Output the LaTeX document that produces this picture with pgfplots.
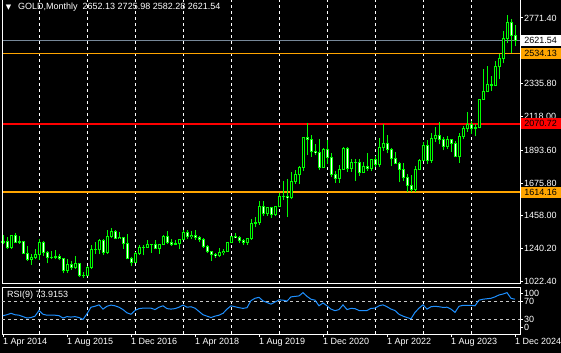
\documentclass[border=0pt]{standalone}
\usepackage{pgfplots}
\usepackage{pgfplotstable}
\pgfplotsset{compat=1.18}
\usepackage{fontspec}
\setmainfont{Liberation Sans}
\newfontfamily\dejavu{DejaVu Sans}
\newcommand\mt{\fontsize{9bp}{10bp}\selectfont}
\definecolor{candle}{RGB}{0,255,0}
\definecolor{rsiblue}{RGB}{30,144,255}
\definecolor{mtorange}{RGB}{255,165,0}
\definecolor{bidgray}{RGB}{119,136,153}
\definecolor{lvl}{RGB}{200,200,200}

\pgfplotstableread{
i o h l c r
0 1284 1331 1268 1288 39
1 1288 1315 1240 1250 41
2 1250 1332 1240 1327 44
3 1327 1346 1281 1282 41
4 1282 1324 1273 1287 40
5 1287 1292 1206 1210 37
6 1210 1255 1161 1171 34
7 1171 1208 1132 1182 35
8 1182 1238 1170 1199 38
9 1199 1307 1168 1283 50
10 1283 1288 1191 1212 42
11 1212 1223 1142 1183 40
12 1183 1224 1170 1184 40
13 1184 1232 1170 1190 40
14 1190 1205 1162 1172 39
15 1172 1174 1077 1095 34
16 1095 1170 1080 1134 37
17 1134 1157 1098 1115 36
18 1115 1191 1106 1142 37
19 1142 1142 1053 1065 35
20 1065 1088 1046 1060 31
21 1060 1123 1061 1118 43
22 1118 1263 1108 1238 57
23 1238 1283 1208 1233 59
24 1233 1304 1207 1293 62
25 1293 1303 1200 1215 53
26 1215 1362 1208 1321 59
27 1321 1375 1310 1351 61.5
28 1351 1367 1302 1309 60
29 1309 1352 1305 1316 57
30 1316 1318 1241 1277 52
31 1277 1338 1171 1173 45
32 1173 1183 1123 1151 42
33 1151 1220 1146 1211 50
34 1211 1264 1200 1249 54
35 1249 1262 1195 1249 55
36 1249 1296 1244 1268 55
37 1268 1270 1214 1269 55
38 1269 1296 1236 1242 52
39 1242 1274 1205 1269 57
40 1269 1331 1267 1322 60
41 1322 1357 1271 1280 54
42 1280 1306 1260 1271 53
43 1271 1299 1264 1275 54
44 1275 1307 1236 1303 57
45 1303 1366 1302 1345 61.5
46 1345 1362 1307 1318 57
47 1318 1356 1303 1325 58
48 1325 1366 1301 1316 55
49 1316 1326 1282 1299 48
50 1299 1309 1245 1253 41
51 1253 1266 1211 1224 38
52 1224 1226 1160 1201 35
53 1201 1214 1180 1192 38
54 1192 1243 1182 1215 40
55 1215 1237 1196 1222 44
56 1222 1284 1221 1282 53
57 1282 1326 1276 1321 60
58 1321 1347 1311 1313 58
59 1313 1325 1281 1292 56
60 1292 1303 1266 1284 54.5
61 1284 1306 1266 1305 56
62 1305 1439 1301 1409 71
63 1409 1453 1382 1413 76
64 1413 1555 1400 1520 78
65 1520 1557 1459 1472 70.5
66 1472 1518 1459 1513 67
67 1513 1516 1446 1464 63.5
68 1464 1524 1455 1517 68
69 1517 1611 1517 1589 72.6
70 1589 1689 1563 1585 72
71 1585 1704 1451 1577 70
72 1577 1747 1567 1686 79
73 1686 1765 1670 1730 80
74 1730 1789 1671 1781 81
75 1781 1984 1757 1975 88
76 1975 2075 1863 1968 80
77 1968 1992 1849 1886 74
78 1886 1933 1860 1879 72
79 1879 1966 1765 1776 60
80 1776 1906 1775 1898 66
81 1898 1959 1803 1847 60
82 1847 1872 1717 1734 53
83 1734 1755 1677 1708 49.6
84 1708 1798 1678 1769 52
85 1769 1913 1766 1906 62
86 1906 1916 1750 1770 52
87 1770 1833 1751 1814 54.5
88 1814 1834 1688 1813 54
89 1813 1834 1722 1743 50
90 1743 1814 1746 1783 50
91 1783 1877 1759 1774 50
92 1774 1831 1753 1829 54.5
93 1829 1853 1780 1797 55
94 1797 1974 1781 1909 60
95 1909 2070 1890 1937 62
96 1937 1998 1872 1897 58
97 1897 1910 1787 1837 53
98 1837 1879 1805 1807 50
99 1807 1814 1681 1766 42
100 1766 1808 1688 1711 38
101 1711 1735 1615 1661 35
102 1661 1730 1618 1633 32.4
103 1633 1786 1617 1768 46
104 1768 1833 1765 1824 55
105 1824 1949 1823 1928 62
106 1928 1959 1805 1827 53
107 1827 2009 1810 1969 58
108 1969 2049 1949 1990 59
109 1990 2079 1932 1963 58
110 1963 1983 1893 1919 56.6
111 1919 1987 1903 1965 57
112 1965 1966 1885 1940 53
113 1940 1953 1848 1849 46
114 1849 2009 1810 1983 59
115 1983 2052 1965 2036 61
116 2036 2146 2017 2063 61
117 2063 2088 2002 2039 61
118 2039 2065 1985 2044 60
119 2044 2236 2039 2230 72
120 2230 2431 2228 2286 74
121 2286 2450 2277 2327 75
122 2327 2388 2287 2326 76
123 2326 2484 2318 2447 79
124 2447 2531 2364 2503 83
125 2503 2685 2471 2634 85
126 2634 2790 2604 2744 88
127 2744 2762 2537 2653 76
128 2652.13 2725.98 2582.28 2621.54 73.9153
}\gold

\tikzset{pricebox/.style={text=black, font=\mt, anchor=west, inner sep=0pt, minimum width=40bp, minimum height=11bp, text height=6.5bp, text depth=0pt, xshift=0.5bp}}

\begin{document}
\begin{tikzpicture}
\fill[black] (0,0) rectangle (561bp,353bp);
\useasboundingbox (0,0) rectangle (561bp,353bp);

% ---------------- main price panel ----------------
\begin{axis}[
  at={(2bp,69bp)}, anchor=south west, scale only axis,
  width=518bp, height=284bp,
  xmin=-0.25, xmax=129.25, ymin=1005.8, ymax=2890.9,
  clip=false,
  axis line style={draw=none},
  xtick={9,21,...,117}, xticklabels={}, xtick style={draw=none},
  xmajorgrids=true,
  major grid style={white, dash pattern=on 3bp off 3bp, line width=1bp},
  ytick pos=right, tick align=outside, major tick length=3bp,
  ytick style={white, line width=1bp},
  ytick={1022.4,1240.2,1458,1675.8,1893.6,2118,2335.8,2553.6,2771.4},
  yticklabels={1022.40,1240.20,1458.00,1675.80,1893.60,2118.00,2335.80,{},2771.40},
  yticklabel style={white, font=\mt, anchor=west, inner sep=0pt, xshift=1bp},
]
% horizontal levels
\addplot[mtorange, line width=2bp, forget plot] coordinates {(-0.25,1614.16) (129.25,1614.16)};
\addplot[red, line width=2bp, forget plot] coordinates {(-0.25,2070.72) (129.25,2070.72)};
\addplot[mtorange, line width=1bp, forget plot] coordinates {(-0.25,2534.13) (129.25,2534.13)};
\addplot[bidgray, line width=1bp, forget plot] coordinates {(-0.25,2621.54) (129.25,2621.54)};
% wicks
\addplot[draw=none, mark=none, forget plot,
  error bars/.cd, y dir=plus, y explicit, error mark=none,
  error bar style={draw=candle, line width=1bp, solid, line cap=butt}]
  table[x=i, y=l, y error plus expr={\thisrow{h}-\thisrow{l}}] {\gold};
% body outline
\addplot[draw=none, mark=none, forget plot,
  error bars/.cd, y dir=plus, y explicit, error mark=none,
  error bar style={draw=candle, line width=3bp, solid, line cap=butt}]
  table[x=i, y expr={min(\thisrow{o},\thisrow{c})-3.3},
        y error plus expr={abs(\thisrow{c}-\thisrow{o})+6.6}] {\gold};
% bull interior (black)
\addplot[draw=none, mark=none, forget plot,
  error bars/.cd, y dir=plus, y explicit, error mark=none,
  error bar style={draw=black, line width=1bp, solid, line cap=butt}]
  table[x=i, y expr={min(\thisrow{o},\thisrow{c})+3.3},
        y error plus expr={(\thisrow{c}>\thisrow{o})*max(abs(\thisrow{c}-\thisrow{o})-6.6,0)}] {\gold};
% bear interior (white)
\addplot[draw=none, mark=none, forget plot,
  error bars/.cd, y dir=plus, y explicit, error mark=none,
  error bar style={draw=white, line width=1bp, solid, line cap=butt}]
  table[x=i, y expr={min(\thisrow{o},\thisrow{c})+3.3},
        y error plus expr={(\thisrow{c}<\thisrow{o})*max(abs(\thisrow{c}-\thisrow{o})-6.6,0)}] {\gold};
% frame
\draw[white, line width=1bp] (rel axis cs:0,1) -- (rel axis cs:0,0) -- (rel axis cs:1,0) -- (rel axis cs:1,1);
% anchor points for price boxes
\coordinate (pBid) at (axis cs:129.25,2621.54);
\coordinate (pOr1) at (axis cs:129.25,2534.13);
\coordinate (pRed) at (axis cs:129.25,2070.72);
\coordinate (pOr2) at (axis cs:129.25,1614.16);
% title
\node[anchor=west, text=white, font=\mt, inner sep=0pt] at (rel axis cs:0.0309,0.9736) {GOLD,Monthly\ \ 2652.13 2725.98 2582.28 2621.54};
\node[anchor=center, text=white, inner sep=0pt] at (rel axis cs:0.0125,0.9736) {\dejavu\fontsize{7bp}{7bp}\selectfont ▼};
\end{axis}

% price boxes drawn over the scale
\node[pricebox, fill=white] at (pBid) {2621.54};
\node[pricebox, fill=mtorange] at (pOr1) {2534.13};
\node[pricebox, fill=red] at (pRed) {2070.72};
\node[pricebox, fill=mtorange] at (pOr2) {1614.16};

% ---------------- RSI panel ----------------
\begin{axis}[
  at={(2bp,19bp)}, anchor=south west, scale only axis,
  width=518bp, height=47bp,
  xmin=-0.25, xmax=129.25, ymin=0, ymax=100,
  clip=false,
  axis line style={white, line width=1bp},
  xtick pos=bottom, ytick pos=right, tick align=outside, major tick length=3bp,
  tick style={white, line width=1bp},
  xtick={0,16,...,128},
  xticklabels={1 Apr 2014,1 Aug 2015,1 Dec 2016,1 Apr 2018,1 Aug 2019,1 Dec 2020,1 Apr 2022,1 Aug 2023,1 Dec 2024},
  xticklabel style={white, font=\mt, anchor=north west, inner sep=0pt, yshift=-1bp},
  extra x ticks={9,21,...,117}, extra x tick labels={},
  extra x tick style={grid=major, major tick length=0pt},
  major grid style={white, dash pattern=on 3bp off 3bp, line width=1bp},
  ytick={13.8,30,70,86.6}, yticklabels={0,30,70,100},
  yticklabel style={white, font=\mt, anchor=west, inner sep=0pt, xshift=1bp},
]
\addplot[lvl, line width=1bp, dash pattern=on 3bp off 3bp, forget plot] coordinates {(-0.25,70) (129.25,70)};
\addplot[lvl, line width=1bp, dash pattern=on 3bp off 3bp, forget plot] coordinates {(-0.25,30) (129.25,30)};
\addplot[rsiblue, line width=1bp, mark=none] table[x=i, y=r] {\gold};
\node[anchor=west, text=white, font=\mt, inner sep=0pt] at (rel axis cs:0.0097,0.817) {RSI(9) 73.9153};
\end{axis}
\end{tikzpicture}
\end{document}
